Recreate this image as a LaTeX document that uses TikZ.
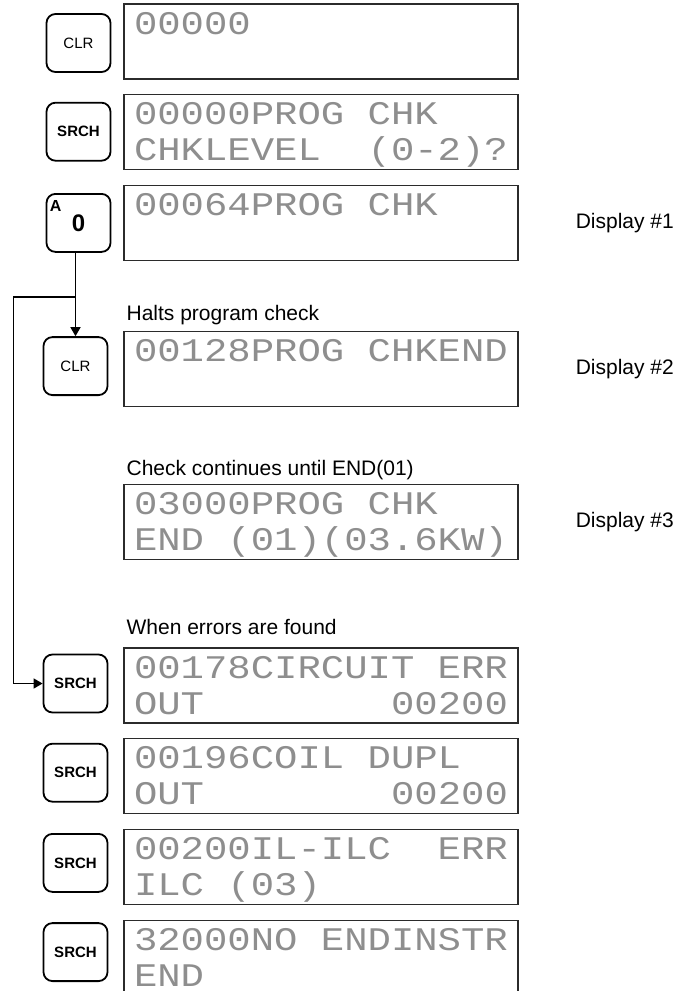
\documentclass[tikz,border=0pt]{standalone}
\usepackage{fontspec}
\setmainfont{Liberation Sans}
\newfontfamily\lcdfont{Liberation Mono}[FakeStretch=1.18]
\usepackage{tikz}
\usetikzlibrary{arrows.meta, positioning, calc}
\definecolor{lcdgray}{HTML}{8E8E8E}
\definecolor{framegray}{HTML}{2B2B2B}
\newcommand{\lcdstrut}{\rule[-7.5pt]{0pt}{36pt}}
\newcommand{\lcd}[2]{\lcdstrut#1\\\lcdstrut#2}
\newcommand{\blank}{\hphantom{0}}
\tikzstyle{dispbox}=[rectangle,draw=framegray,line width=1.2pt,
  text width=374pt,inner xsep=10pt,inner ysep=0pt,minimum height=75pt,
  align=left,text=lcdgray,font=\lcdfont\fontsize{33}{36}\selectfont]
\tikzstyle{keybox}=[rectangle,draw,line width=1.8pt,rounded corners=9pt,
  minimum width=64pt,minimum height=58pt,font=\fontsize{15}{18}\selectfont]
\tikzstyle{keyboxb}=[keybox,font=\fontsize{15}{18}\selectfont\bfseries]
\tikzstyle{note}=[anchor=base west,inner sep=0pt,font=\fontsize{21}{25}\selectfont]
\tikzstyle{disptag}=[anchor=west,inner sep=0pt,font=\fontsize{21}{25}\selectfont]
\tikzstyle{arr}=[-{Triangle[length=9pt,width=10pt]},line width=1.5pt]
\exhyphenpenalty=10000

\begin{document}
\begin{tikzpicture}
  \useasboundingbox (0,0) rectangle (676pt,-991pt);
  % displays
  \node[dispbox] (d1) at (321pt,-41.5pt) {\lcd{00000}{}};
  \node[dispbox,below=14pt of d1] (d2) {\lcd{00000PROG\blank CHK}{CHKLEVEL\blank\blank(0-2)?}};
  \node[dispbox,below=15pt of d2] (d3) {\lcd{00064PROG\blank CHK}{}};
  \node[dispbox,below=70pt of d3] (d4) {\lcd{00128PROG\blank CHKEND}{}};
  \node[dispbox,below=77pt of d4] (d5) {\lcd{03000PROG\blank CHK}{END\blank(01)(03.6KW)}};
  \node[dispbox,below=87pt of d5] (d6) {\lcd{00178CIRCUIT\blank ERR}{OUT\blank\blank\blank\blank\blank\blank\blank\blank00200}};
  \node[dispbox,below=14pt of d6] (d7) {\lcd{00196COIL\blank DUPL}{OUT\blank\blank\blank\blank\blank\blank\blank\blank00200}};
  \node[dispbox,below=15pt of d7] (d8) {\lcd{00200IL-ILC\blank\blank ERR}{ILC\blank(03)}};
  \node[dispbox,below=15pt of d8] (d9) {\lcd{32000NO\blank ENDINSTR}{END}};
  % keys
  \node[keybox,left=12pt of d1,yshift=-1.5pt] (k1) {CLR};
  \node[keyboxb,left=12pt of d2] (k2) {SRCH};
  \node[keybox,left=12pt of d3,font=\fontsize{24}{28}\selectfont\bfseries] (k3) {0};
  \node[font=\fontsize{16}{18}\selectfont\bfseries,inner sep=0pt] (k3A)
    at ([xshift=10pt,yshift=-13pt]k3.north west) {A};
  \node[keybox,left=15pt of d4,yshift=3pt] (k4) {CLR};
  \node[keyboxb,left=15pt of d6,yshift=2pt] (k5) {SRCH};
  \node[keyboxb,left=15pt of d7,yshift=3pt] (k6) {SRCH};
  \node[keyboxb,left=15pt of d8,yshift=4pt] (k7) {SRCH};
  \node[keyboxb,left=15pt of d9,yshift=6pt] (k8) {SRCH};
  % notes
  \node[note] (n1) at ([xshift=3pt,yshift=11pt]d4.north west) {Halts program check};
  \node[note] (n2) at ([xshift=3pt,yshift=9pt]d5.north west) {Check continues until END(01)};
  \node[note] (n3) at ([xshift=3pt,yshift=13pt]d6.north west) {When errors are found};
  \node[disptag,right=57pt of d3] (t1) {Display \#1};
  \node[disptag,right=57pt of d4] (t2) {Display \#2};
  \node[disptag,right=57pt of d5] (t3) {Display \#3};
  % flow
  \coordinate (split) at ($(k3.south -| k4.north)+(0,-44pt)$);
  \draw[arr] (k3.south -| k4.north) -- (k4.north);
  \draw[arr] (split) -| ([xshift=-29pt]k5.west) -- (k5.west);
\end{tikzpicture}
\end{document}
